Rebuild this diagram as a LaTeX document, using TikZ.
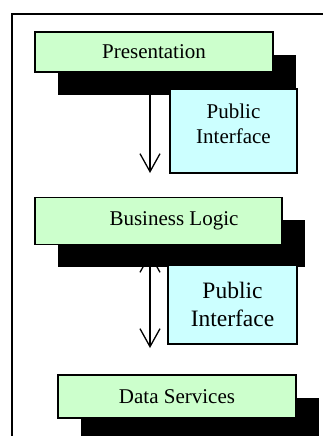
\documentclass[tikz,border=0pt]{standalone}
\usepackage{fontspec}
\setmainfont{Liberation Serif}
\usetikzlibrary{positioning, shadows, arrows.meta, backgrounds}

\definecolor{layergreen}{HTML}{CCFFCC}
\definecolor{ifacecyan}{HTML}{CCFFFF}

\begin{document}
\begin{tikzpicture}[
    x=1pt, y=-1pt,
    >={Straight Barb[length=18pt, width=20pt]},
    layer/.style={
        rectangle,
        draw=black, line width=1.4pt,
        fill=layergreen,
        text centered,
        font=\fontsize{21}{25}\selectfont,
        general shadow={fill=black, shadow xshift=23pt, shadow yshift=-23pt}
    },
    iface/.style={
        rectangle,
        draw=black, line width=1.4pt,
        fill=ifacecyan,
        align=center,
        font=\fontsize{21}{25}\selectfont
    }
]

\useasboundingbox (0,0) rectangle (322,436);
\draw[line width=1.5pt] (12,440) -- (12,14) -- (330,14);

\node[layer, minimum width=238pt, minimum height=40pt] (pres) at (154,52) {Presentation};
\node[iface, minimum width=127pt, minimum height=84pt, text depth=14pt] (pub1) at (233.5,131) {Public\\Interface};

\node[layer, minimum width=247pt, minimum height=47pt, below=124pt of pres, xshift=4.5pt] (logic) {\hspace*{31pt}Business Logic};
\node[iface, font=\fontsize{23.5}{28}\selectfont, minimum width=129pt, minimum height=79pt] (pub2) at (232.5,304.5) {Public\\Interface};

\node[layer, minimum width=238pt, minimum height=43pt, below=129pt of logic, xshift=18.5pt] (data) {Data Services};

\coordinate (end1) at (150,173);
\coordinate (top2) at (150,253);
\coordinate (end2) at (150,348);

\begin{scope}[on background layer]
\draw[->, line width=1.3pt] (pres.south -| end1) -- (end1);
\draw[<->, line width=1.3pt] (top2) -- (end2);
\end{scope}

\end{tikzpicture}
\end{document}
